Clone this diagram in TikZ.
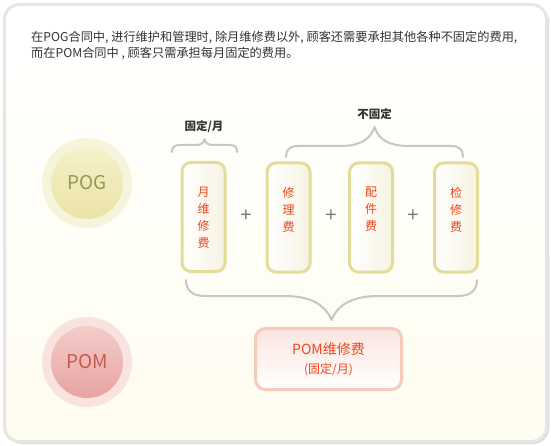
\documentclass[tikz,border=0pt]{standalone}
\usepackage{fontspec}
\setmainfont{Noto Sans CJK SC}
\newfontfamily\plusfont{Liberation Sans}
\definecolor{framegray}{HTML}{E6E6E6}
\definecolor{bgbottom}{HTML}{FFFDF0}
\definecolor{boxborder}{HTML}{E3DC9A}
\definecolor{boxright}{HTML}{F6F3E2}
\definecolor{redtext}{HTML}{F2451C}
\definecolor{bracegray}{HTML}{C6C6C6}
\definecolor{plusgray}{HTML}{7A7A7A}
\definecolor{darktext}{HTML}{333333}
\definecolor{poghalo}{HTML}{F7F4DC}
\definecolor{pogtop}{HTML}{F5F1CB}
\definecolor{pogbot}{HTML}{EAE3A6}
\definecolor{pogtext}{HTML}{9C9650}
\definecolor{pomhalo}{HTML}{F9E3DF}
\definecolor{pomtop}{HTML}{F3CDC9}
\definecolor{pombot}{HTML}{E8A3A2}
\definecolor{pomtext}{HTML}{C65A50}
\definecolor{pomborder}{HTML}{F5CBBC}
\definecolor{pomboxtop}{HTML}{FBE5DF}
\begin{document}
\begin{tikzpicture}[x=1pt,y=-1pt,
  costbox/.style={draw=boxborder, line width=3pt, rounded corners=9pt,
    minimum width=43pt, minimum height=109pt, inner sep=0pt,
    left color=white, right color=boxright},
  vtext/.style={text=redtext, font=\fontsize{12}{17}\selectfont,
    align=center, inner sep=0pt, anchor=north},
  plussign/.style={text=plusgray, font=\plusfont\fontsize{20}{20}\selectfont, inner sep=0pt},
  bracepath/.style={draw=bracegray, line width=2pt, line cap=round, line join=round},
  toplabel/.style={text=darktext, font=\bfseries\fontsize{11.5}{12}\selectfont, inner sep=0pt},
  halo/.style={circle, minimum size=90pt, inner sep=0pt},
  core/.style={circle, minimum size=72pt, inner sep=0pt, font=\fontsize{19}{19}\selectfont}]
\useasboundingbox (0,0) rectangle (551,446);
% frame
\fill[framegray!70!black!40, rounded corners=16pt] (6,6) rectangle (549,444);
\shade[top color=white, bottom color=bgbottom, draw=framegray, line width=3pt, rounded corners=15pt]
  (4.5,4.5) rectangle (546.5,441.5);
% header
\node[anchor=north west, inner sep=0pt, align=left, text=darktext,
  font=\fontsize{12.2}{16}\selectfont] (header) at (31,31)
  {在POG合同中, 进行维护和管理时, 除月维修费以外, 顾客还需要承担其他各种不固定的费用,\\
   而在POM合同中 , 顾客只需承担每月固定的费用。};
% circles
\node[halo, fill=poghalo] (poghalo) at (87,183) {};
\node[core, top color=pogtop, bottom color=pogbot, text=pogtext] (pog) at (87,183) {POG};
\node[halo, fill=pomhalo] (pomhalo) at (87,362) {};
\node[core, top color=pomtop, bottom color=pombot, text=pomtext] (pom) at (87,362) {POM};
% cost boxes
\node[costbox] (b1) at (203.5,217) {};
\node[costbox] (b2) at (288.5,217.5) {};
\node[costbox] (b3) at (371,217.5) {};
\node[costbox] (b4) at (456,217.5) {};
\node[vtext] (t1) at (203.5,186.5) {月\\维\\修\\费};
\node[vtext] (t2) at (288.5,187) {修\\理\\费};
\node[vtext] (t3) at (371,187) {配\\件\\费};
\node[vtext] (t4) at (456,187) {检\\修\\费};
% plus signs
\node[plussign] (p1) at (246,216) {+};
\node[plussign] (p2) at (331,216) {+};
\node[plussign] (p3) at (413,216) {+};
% labels
\node[toplabel] (lfix) at (204,127) {固定/月};
\node[toplabel] (lvar) at (374.5,114) {不固定};
% braces
\draw[bracepath] (172,152) .. controls (172,147) and (174,145) .. (180,145) -- (196,145)
  .. controls (201,145) and (204,143) .. (204.5,139)
  .. controls (205,143) and (208,145) .. (213,145) -- (229,145)
  .. controls (235,145) and (237,147) .. (237,152);
\draw[bracepath] (286,157) .. controls (286,150) and (289,146) .. (298,146) -- (340,146)
  .. controls (358,146) and (370,141) .. (374.5,127)
  .. controls (379,141) and (391,146) .. (409,146) -- (451,146)
  .. controls (460,146) and (463,150) .. (463,157);
\draw[bracepath] (186,280) .. controls (186,290) and (192,296) .. (205,296) -- (285,296)
  .. controls (312,296) and (326,306) .. (331.5,320)
  .. controls (337,306) and (351,296) .. (378,296) -- (458,296)
  .. controls (471,296) and (477,290) .. (477,280);
% POM box
\node[draw=pomborder, line width=3pt, rounded corners=10pt, minimum width=146pt,
  minimum height=61pt, top color=pomboxtop, bottom color=white, inner sep=0pt,
  text=redtext, align=center, font=\fontsize{14}{19}\selectfont] (pombox) at (328.5,359)
  {POM维修费\\{\fontsize{12}{12}\selectfont (固定/月)}};
\end{tikzpicture}
\end{document}
